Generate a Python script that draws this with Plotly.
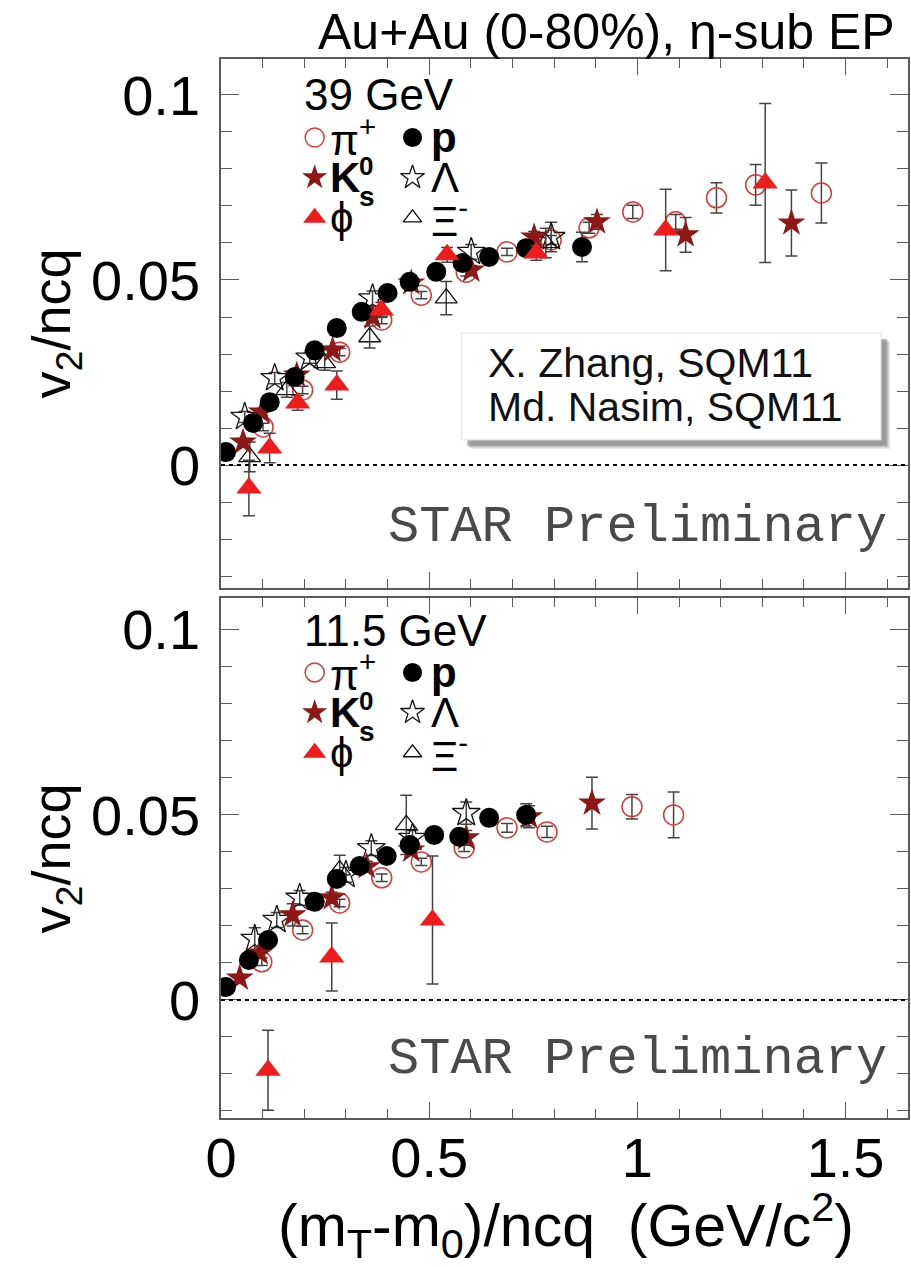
import plotly.graph_objects as go

# ---------------- data: v2/ncq vs (mT-m0)/ncq ----------------
# 39 GeV
pi39_x = [0.101, 0.196, 0.285, 0.386, 0.481, 0.589, 0.687, 0.793, 0.884, 0.989, 1.092, 1.190, 1.284, 1.442]
pi39_v = [0.0103, 0.0203, 0.0305, 0.0392, 0.0459, 0.0521, 0.0576, 0.0608, 0.0641, 0.0684, 0.0657, 0.0722, 0.0757, 0.0735]
pi39_e = [0.001, 0.001, 0.001, 0.001, 0.001, 0.001, 0.001, 0.0012, 0.0015, 0.0018, 0.002, 0.0041, 0.0055, 0.0081]

p39_x = [0.012, 0.077, 0.117, 0.177, 0.225, 0.278, 0.338, 0.400, 0.453, 0.517, 0.580, 0.644, 0.733, 0.867]
p39_v = [0.0035, 0.0114, 0.0170, 0.0238, 0.0310, 0.0370, 0.0414, 0.0465, 0.0495, 0.0522, 0.0546, 0.0562, 0.0586, 0.0589]
p39_e = [0.001, 0.001, 0.001, 0.001, 0.001, 0.001, 0.001, 0.001, 0.001, 0.001, 0.0012, 0.0015, 0.002, 0.004]

k39_x = [0.053, 0.098, 0.182, 0.268, 0.364, 0.457, 0.601, 0.752, 0.903, 1.116, 1.370]
k39_v = [0.0062, 0.0143, 0.0243, 0.0311, 0.0400, 0.0492, 0.0527, 0.0616, 0.0657, 0.0622, 0.0654]
k39_e = [0.001, 0.001, 0.001, 0.001, 0.001, 0.001, 0.0012, 0.0015, 0.002, 0.0047, 0.0089]

phi39_x = [0.067, 0.117, 0.184, 0.278, 0.385, 0.543, 0.757, 1.068, 1.307]
phi39_v = [-0.0062, 0.0046, 0.0168, 0.0216, 0.0419, 0.0568, 0.0573, 0.0635, 0.0762]
phi39_e = [0.0075, 0.004, 0.002, 0.0038, 0.002, 0.002, 0.002, 0.011, 0.0215]

lam39_x = [0.057, 0.129, 0.213, 0.364, 0.601, 0.793]
lam39_v = [0.0130, 0.0235, 0.0290, 0.0450, 0.0576, 0.0616]
lam39_e = [0.0015, 0.0015, 0.0015, 0.002, 0.002, 0.004]

xi39_x = [0.069, 0.158, 0.249, 0.357, 0.541, 0.780]
xi39_v = [0.0022, 0.0203, 0.0276, 0.0346, 0.0451, 0.0600]
xi39_e = [0.004, 0.002, 0.002, 0.003, 0.0045, 0.004]

# 11.5 GeV
pi11_x = [0.098, 0.196, 0.285, 0.386, 0.481, 0.584, 0.687, 0.783, 0.987, 1.087]
pi11_v = [0.0103, 0.0189, 0.0262, 0.0330, 0.0373, 0.0411, 0.0465, 0.0454, 0.0522, 0.0500]
pi11_e = [0.001, 0.001, 0.001, 0.001, 0.001, 0.001, 0.0012, 0.0015, 0.0033, 0.0062]

p11_x = [0.012, 0.067, 0.113, 0.225, 0.278, 0.333, 0.398, 0.453, 0.512, 0.572, 0.644, 0.733]
p11_v = [0.0035, 0.0108, 0.0162, 0.0265, 0.0327, 0.0362, 0.0389, 0.0419, 0.0446, 0.0441, 0.0492, 0.0500]
p11_e = [0.001, 0.001, 0.001, 0.001, 0.001, 0.001, 0.001, 0.0012, 0.0012, 0.0015, 0.002, 0.003]

k11_x = [0.045, 0.093, 0.172, 0.266, 0.350, 0.457, 0.589, 0.740, 0.891]
k11_v = [0.0059, 0.0127, 0.0230, 0.0276, 0.0360, 0.0405, 0.0438, 0.0495, 0.0532]
k11_e = [0.001, 0.0015, 0.003, 0.0015, 0.0015, 0.0015, 0.002, 0.003, 0.007]

phi11_x = [0.113, 0.266, 0.508]
phi11_v = [-0.0190, 0.0116, 0.0216]
phi11_e = [0.0108, 0.0092, 0.0173]

lam11_x = [0.081, 0.134, 0.189, 0.300, 0.361, 0.460, 0.589]
lam11_v = [0.0165, 0.0216, 0.0276, 0.0338, 0.0410, 0.0438, 0.0505]
lam11_e = [0.003, 0.002, 0.002, 0.002, 0.002, 0.002, 0.003]

xi11_x = [0.285, 0.445]
xi11_v = [0.0351, 0.0473]
xi11_e = [0.004, 0.008]

# tick labels
x_ticks = [0, 0.5, 1, 1.5]
x_tick_text = ["0", "0.5", "1", "1.5"]
y_ticks = [0, 0.05, 0.1]
y_tick_text = ["0", "0.05", "0.1"]

# ---------------- layout constants ----------------
W, H = 911, 1267
M_L, M_R, M_T, M_B = 221, 1, 59, 149
PLOT_W = W - M_L - M_R
PLOT_H = H - M_T - M_B
X_RANGE = [0, 1.65]
Y_RANGE_TOP = [-0.0332, 0.1097]
Y_RANGE_BOT = [-0.0319, 0.1086]
DOM_TOP = [0.5005, 1.0]
DOM_BOT = [0.0, 0.491]

SANS = "Liberation Sans, Arial, Helvetica, sans-serif"
MONO = "Liberation Mono, Courier New, monospace"
ERR_COLOR = "#444444"


def px_x(px):
    return (px - M_L) / PLOT_W


def px_y(py):
    return (H - M_B - py) / PLOT_H


STYLE = {
    "pi": dict(symbol="circle-open", size=20, color="#DB3838", line=dict(width=1.5, color="#DB3838")),
    "lam": dict(symbol="star-open", size=21, color="#111111", line=dict(width=1.3, color="#111111")),
    "xi": dict(symbol="triangle-up-open", size=19, color="#111111", line=dict(width=1.3, color="#111111")),
    "k": dict(symbol="star", size=21, color="#8E1717", line=dict(width=0)),
    "p": dict(symbol="circle", size=20, color="#000000", line=dict(width=0)),
    "phi": dict(symbol="triangle-up", size=22, color="#EE1C1C", line=dict(width=0)),
}
LEGEND_SIZE = {"pi": 19, "p": 19, "k": 19, "lam": 18, "phi": 20, "xi": 16}

fig = go.Figure()


def add_series(x, v, e, key, xa, ya):
    fig.add_trace(go.Scatter(
        x=x, y=v, mode="markers", xaxis=xa, yaxis=ya, showlegend=False,
        marker=STYLE[key],
        error_y=dict(type="data", array=e, color=ERR_COLOR, thickness=1.5, width=6),
    ))


panels = [
    ("x", "y", [
        (pi39_x, pi39_v, pi39_e, "pi"), (lam39_x, lam39_v, lam39_e, "lam"),
        (xi39_x, xi39_v, xi39_e, "xi"), (k39_x, k39_v, k39_e, "k"),
        (p39_x, p39_v, p39_e, "p"), (phi39_x, phi39_v, phi39_e, "phi")]),
    ("x2", "y2", [
        (pi11_x, pi11_v, pi11_e, "pi"), (lam11_x, lam11_v, lam11_e, "lam"),
        (xi11_x, xi11_v, xi11_e, "xi"), (k11_x, k11_v, k11_e, "k"),
        (p11_x, p11_v, p11_e, "p"), (phi11_x, phi11_v, phi11_e, "phi")]),
]
for xa, ya, series in panels:
    for x, v, e, key in series:
        add_series(x, v, e, key, xa, ya)

# ---------------- in-panel legend keys ----------------
LEG_ROWS = [0.0885, 0.0777, 0.0668]
LEG_COL_MARK = [0.225, 0.460]
LEG_COL_TEXT = [0.256, 0.500]
legend_keys = [
    ("pi", 0, 0, "π<sup>+</sup>", False),
    ("p", 1, 0, "p", True),
    ("k", 0, 1, "K", True),
    ("lam", 1, 1, "Λ", False),
    ("phi", 0, 2, "ϕ", False),
    ("xi", 1, 2, "Ξ<sup>-</sup>", False),
]
energies = [("x", "y", "39 GeV", 0.1000), ("x2", "y2", "11.5 GeV", 0.0997)]

annotations = []
shapes = []
for xa, ya, energy, ey in energies:
    annotations.append(dict(xref=xa, yref=ya, x=0.194, y=ey, text=energy, showarrow=False,
                            xanchor="left", yanchor="middle",
                            font=dict(family=SANS, size=44, color="black")))
    for key, col, row, label, bold in legend_keys:
        st = dict(STYLE[key])
        st["size"] = LEGEND_SIZE[key]
        fig.add_trace(go.Scatter(x=[LEG_COL_MARK[col]], y=[LEG_ROWS[row]], mode="markers",
                                 xaxis=xa, yaxis=ya, showlegend=False, marker=st,
                                 hoverinfo="skip"))
        txt = f"<b>{label}</b>" if bold else label
        annotations.append(dict(xref=xa, yref=ya, x=LEG_COL_TEXT[col], y=LEG_ROWS[row], text=txt,
                                showarrow=False, xanchor="left", yanchor="middle",
                                font=dict(family=SANS, size=42, color="black")))
    # K0s indices stacked after the K
    annotations.append(dict(xref=xa, yref=ya, x=0.326, y=LEG_ROWS[1] + 0.0030, text="<b>0</b>",
                            showarrow=False, xanchor="left", yanchor="middle",
                            font=dict(family=SANS, size=26, color="black")))
    annotations.append(dict(xref=xa, yref=ya, x=0.326, y=LEG_ROWS[1] - 0.0052, text="<b>s</b>",
                            showarrow=False, xanchor="left", yanchor="middle",
                            font=dict(family=SANS, size=28, color="black")))

    # dotted zero line
    shapes.append(dict(type="line", xref=xa, yref=ya, x0=X_RANGE[0], x1=X_RANGE[1], y0=0, y1=0,
                       line=dict(color="black", width=2, dash="4px,4px")))
    # preliminary label
    annotations.append(dict(xref=xa, yref=ya, x=1.0, y=-0.0168 if ya == "y" else -0.0162,
                            text="STAR Preliminary", showarrow=False, xanchor="center",
                            yanchor="middle", font=dict(family=MONO, size=52, color="#4a4a4a")))

# reference box with drop shadow (upper panel)
BOX = dict(x0=0.577, x1=1.585, y0=0.0068, y1=0.0357)
for dx, dy, op in [(0.022, 0.0024, 0.18), (0.018, 0.0020, 0.30), (0.014, 0.0016, 0.45)]:
    shapes.append(dict(type="rect", xref="x", yref="y", x0=BOX["x0"] + dx, x1=BOX["x1"] + dx,
                       y0=BOX["y0"] - dy, y1=BOX["y1"] - dy, line=dict(width=0),
                       fillcolor="rgba(110,110,110,%.2f)" % op, layer="above"))
shapes.append(dict(type="rect", xref="x", yref="y", **BOX, line=dict(width=1, color="#e4e4e4"),
                   fillcolor="white", layer="above"))
annotations.append(dict(xref="x", yref="y", x=0.637, y=0.0276, text="X. Zhang, SQM11",
                        showarrow=False, xanchor="left", yanchor="middle",
                        font=dict(family=SANS, size=41, color="#111111")))
annotations.append(dict(xref="x", yref="y", x=0.637, y=0.0157, text="Md. Nasim, SQM11",
                        showarrow=False, xanchor="left", yanchor="middle",
                        font=dict(family=SANS, size=41, color="#111111")))

# titles
annotations.append(dict(xref="paper", yref="paper", x=px_x(899), y=px_y(32),
                        text="Au+Au (0-80%), η-sub EP", showarrow=False,
                        xanchor="right", yanchor="middle",
                        font=dict(family=SANS, size=50, color="black")))
for yc in (323, 858):
    annotations.append(dict(xref="paper", yref="paper", x=px_x(55), y=px_y(yc),
                            text="v<sub>2</sub>/ncq", textangle=-90, showarrow=False,
                            xanchor="center", yanchor="middle",
                            font=dict(family=SANS, size=54, color="black")))
annotations.append(dict(xref="paper", yref="paper", x=px_x(567), y=px_y(1225),
                        text="(m<sub>T</sub>-m<sub>0</sub>)/ncq\u00a0\u00a0(GeV/c<sup>2</sup>)",
                        showarrow=False, xanchor="center", yanchor="middle",
                        font=dict(family=SANS, size=59, color="black")))

AX_LINE = "#5a5a5a"
common_x = dict(range=X_RANGE, showline=True, linecolor=AX_LINE, linewidth=1.5, mirror="ticks",
                ticks="inside", ticklen=16, tickwidth=1.4, tickcolor=AX_LINE,
                tickvals=x_ticks, ticktext=x_tick_text, showgrid=False, zeroline=False,
                minor=dict(ticks="inside", ticklen=9, tickwidth=1.2, tickcolor=AX_LINE,
                           dtick=0.1, tick0=0, showgrid=False),
                tickfont=dict(family=SANS, size=56, color="black"), fixedrange=True)
common_y = dict(showline=True, linecolor=AX_LINE, linewidth=1.5, mirror="ticks",
                ticks="inside", ticklen=18, tickwidth=1.4, tickcolor=AX_LINE,
                tickvals=y_ticks, ticktext=y_tick_text, showgrid=False, zeroline=False,
                minor=dict(ticks="inside", ticklen=11, tickwidth=1.2, tickcolor=AX_LINE,
                           dtick=0.01, tick0=0, showgrid=False),
                tickfont=dict(family=SANS, size=56, color="black"), ticklabelstandoff=8,
                fixedrange=True)

fig.update_layout(
    width=W, height=H,
    margin=dict(l=M_L, r=M_R, t=M_T, b=M_B),
    paper_bgcolor="white", plot_bgcolor="white",
    showlegend=False,
    xaxis=dict(**common_x, anchor="y", showticklabels=False),
    yaxis=dict(**common_y, domain=DOM_TOP, range=Y_RANGE_TOP, anchor="x"),
    xaxis2=dict(**common_x, anchor="y2", showticklabels=True, ticklabelstandoff=-10),
    yaxis2=dict(**common_y, domain=DOM_BOT, range=Y_RANGE_BOT, anchor="x2"),
    shapes=shapes,
    annotations=annotations,
)

fig.write_html("out.html")
